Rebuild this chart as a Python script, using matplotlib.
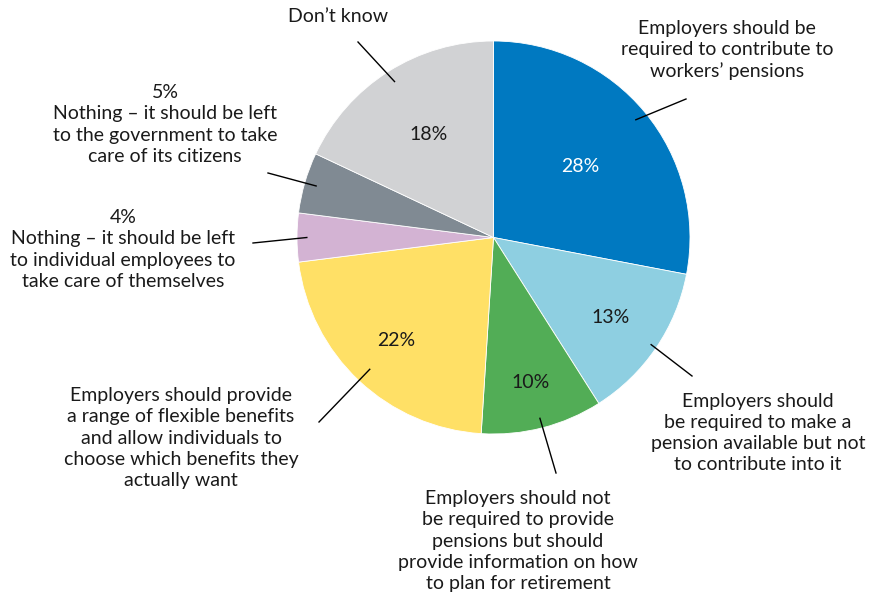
import matplotlib.pyplot as plt
import numpy as np

# ---- data ----
categories = [
    "Employers should be\nrequired to contribute to\nworkers\u2019 pensions",
    "Employers should\nbe required to make a\npension available but not\nto contribute into it",
    "Employers should not\nbe required to provide\npensions but should\nprovide information on how\nto plan for retirement",
    "Employers should provide\na range of flexible benefits\nand allow individuals to\nchoose which benefits they\nactually want",
    "Nothing \u2013 it should be left\nto individual employees to\ntake care of themselves",
    "Nothing \u2013 it should be left\nto the government to take\ncare of its citizens",
    "Don\u2019t know",
]
values = [28, 13, 10, 22, 4, 5, 18]
colors = ["#0079C1", "#8ECFE1", "#52AD56", "#FFE066", "#D3B3D3", "#808A93", "#D1D2D4"]
pct_inside = [True, True, True, True, False, False, True]
pct_color = ["white", "#1a1a1a", "#1a1a1a", "#1a1a1a", "#1a1a1a", "#1a1a1a", "#1a1a1a"]

# ---- layout (pixel coords, y from top) ----
W, H = 871, 598
pct_dist = [0.57, 0.72, 0.76, 0.72, 0, 0, 0.62]
text_pos = [(727, 50), (758, 433), (518, 541), (181, 438), (123, 249.5), (165, 124.5), (338, 17)]
line_end = [(686, 99), (692, 376), (556, 473), (319, 422), (253, 243), (268, 173), (358, 42)]
inner_frac = [0.94, 0.97, 0.95, 0.92, 0.95, 0.94, 0.94]

FONT = "Lato"
FS = 14
TXT = "#1a1a1a"

fig = plt.figure(figsize=(W / 100, H / 100), dpi=100)
ax = fig.add_axes([0, 0, 1, 1])
cx, cy, R = 493.5, H - 237.5, 196.5
wedges, _ = ax.pie(values, colors=colors, startangle=90, counterclock=False,
                   center=(cx, cy), radius=R,
                   wedgeprops=dict(linewidth=0.6, edgecolor="white"))
ax.set_xlim(0, W)
ax.set_ylim(0, H)
ax.set_aspect("equal")
ax.axis("off")

for i, w in enumerate(wedges):
    mid = np.deg2rad((w.theta1 + w.theta2) / 2)
    if pct_inside[i]:
        d = pct_dist[i] * R
        ax.text(cx + d * np.cos(mid), cy + d * np.sin(mid), f"{values[i]}%",
                ha="center", va="center", fontsize=FS, family=FONT, color=pct_color[i])
        label = categories[i]
    else:
        label = f"{values[i]}%\n" + categories[i]
    r0 = inner_frac[i] * R
    x0, y0 = cx + r0 * np.cos(mid), cy + r0 * np.sin(mid)
    x1, y1 = line_end[i][0], H - line_end[i][1]
    ax.plot([x0, x1], [y0, y1], color="black", lw=1.0)
    tx, ty = text_pos[i]
    ax.text(tx, H - ty, label, ha="center", va="center", multialignment="center",
            fontsize=FS, family=FONT, color=TXT, linespacing=1.3)

fig.savefig("out.png", dpi=100)
